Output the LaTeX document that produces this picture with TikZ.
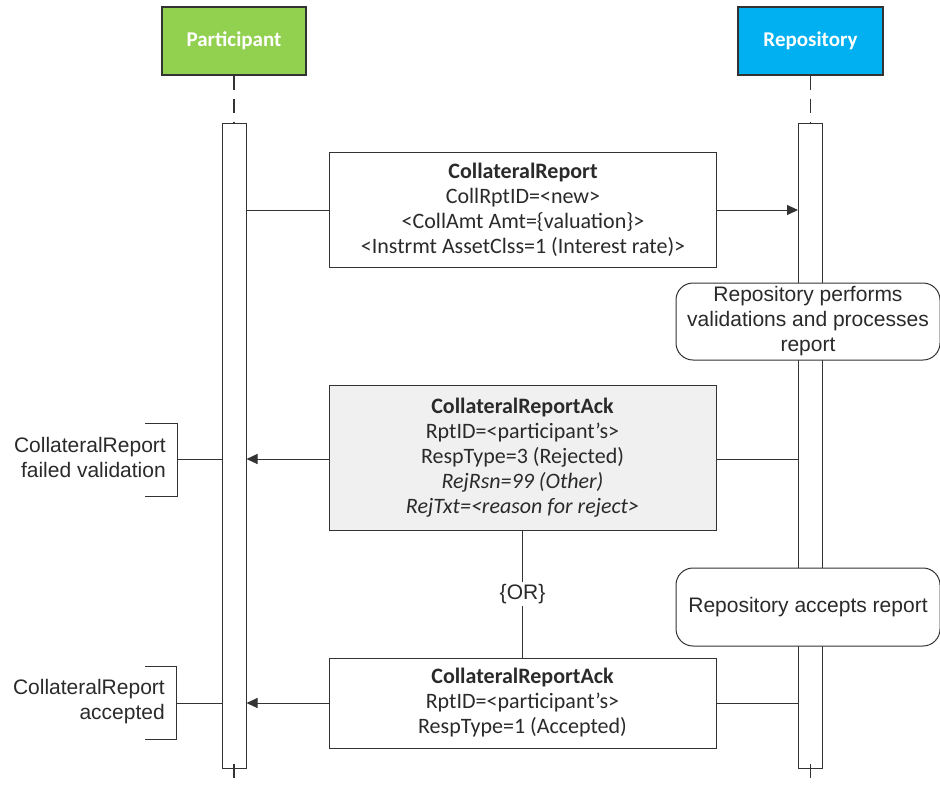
\documentclass[tikz,border=0pt]{standalone}
\usepackage{fontspec}
\setmainfont{Carlito}
\newfontfamily\notefont{Liberation Sans}
\usetikzlibrary{arrows.meta}
\definecolor{partgreen}{HTML}{92D050}
\definecolor{repoblue}{HTML}{00B0F0}
\definecolor{linegray}{HTML}{333333}
\definecolor{txtgray}{HTML}{2A2A2A}
\definecolor{ackfill}{HTML}{F0F0F0}
\begin{document}
\begin{tikzpicture}[x=1pt,y=-1pt,
  actor/.style={draw=linegray, line width=1.3pt, text=white,
    font=\bfseries\fontsize{21}{24}\selectfont, minimum width=144pt,
    minimum height=68pt, inner sep=0pt},
  lifebar/.style={draw=linegray, line width=1pt, fill=white,
    minimum width=24pt, minimum height=645pt, inner sep=0pt},
  lifeline/.style={draw=linegray, line width=1.2pt, dash pattern=on 14pt off 9pt},
  msgbox/.style={draw=linegray, line width=1pt, fill=white, align=center,
    text=txtgray, font=\fontsize{22}{25}\selectfont, minimum width=387pt,
    inner sep=0pt},
  notebox/.style={draw=linegray, line width=1pt, fill=white, rounded corners=17pt,
    align=center, text=txtgray, font=\notefont\fontsize{21}{25}\selectfont,
    minimum width=264pt, inner sep=0pt},
  conn/.style={draw=linegray, line width=1pt},
  msgarrow/.style={conn, -{Triangle[length=11pt,width=10pt]}},
  sidetext/.style={align=right, anchor=east, text=txtgray,
    font=\notefont\fontsize{21}{25}\selectfont, inner sep=0pt}
]
\useasboundingbox (0,0) rectangle (940,785);

% actors
\node[actor, fill=partgreen] (part) at (234,41) {Participant};
\node[actor, fill=repoblue, minimum width=145pt] (repo) at (810.5,41) {Repository};

% lifelines and activation bars
\coordinate (partend) at (234,785);
\coordinate (repoend) at (810.5,785);
\node[lifebar] (pbar) at (234,445.5) {};
\node[lifebar] (rbar) at (810.5,445.5) {};
\draw[lifeline] (part.south) -- (pbar.north);
\draw[lifeline] (repo.south) -- (rbar.north);
\draw[lifeline] ([yshift=5pt]pbar.south) -- (partend);
\draw[lifeline] ([yshift=5pt]rbar.south) -- (repoend);

% CollateralReport request
\node[msgbox, minimum height=115pt] (req) at (523,210)
  {\textbf{CollateralReport}\\ CollRptID=<new>\\ <CollAmt Amt=\{valuation\}>\\
   <Instrmt AssetClss=1 (Interest rate)>};
\draw[conn] (pbar.east |- req.west) -- (req.west);
\draw[msgarrow] (req.east) -- (rbar.west |- req.east);

% processing note
\node[notebox, minimum height=77pt] (proc) at (808,321.5)
  {Repository performs\\ validations and processes\\ report};

% rejected acknowledgement
\node[msgbox, fill=ackfill, minimum height=145pt] (rej) at (522.5,457.5)
  {\textbf{CollateralReportAck}\\ RptID=<participant’s>\\ RespType=3 (Rejected)\\
   \textit{RejRsn=99 (Other)}\\ \textit{RejTxt=<reason for reject>}};
\coordinate (rejy) at (0,459);
\draw[conn] (rbar.west |- rejy) -- (rej.east |- rejy);
\draw[msgarrow] (rej.west |- rejy) -- (pbar.east |- rejy);

% accepted note
\node[notebox, minimum height=78pt] (acc) at (808,607) {Repository accepts report};

% accepted acknowledgement
\node[msgbox, minimum height=90pt] (ok) at (522.5,703)
  {\textbf{CollateralReportAck}\\ RptID=<participant’s>\\ RespType=1 (Accepted)};
\draw[conn] (rbar.west |- ok.east) -- (ok.east);
\draw[msgarrow] (ok.west) -- (pbar.east |- ok.west);

% alternative link
\draw[conn] (rej.south) -- (ok.north)
  node[midway, fill=white, text=txtgray, font=\notefont\fontsize{21}{24}\selectfont,
       inner sep=2pt] {\{OR\}};

% outcome brackets
\coordinate (b1t) at (145,423);
\coordinate (b1tc) at (177,423);
\coordinate (b1bc) at (177,496);
\coordinate (b1b) at (145,496);
\coordinate (b1m) at (177,459);
\draw[conn] (b1t) -- (b1tc) -- (b1bc) -- (b1b);
\draw[conn] (b1m) -- (pbar.west |- b1m);
\node[sidetext] (fail) at (166,457) {CollateralReport\\ failed validation};

\coordinate (b2t) at (145,666);
\coordinate (b2tc) at (176,666);
\coordinate (b2bc) at (176,739);
\coordinate (b2b) at (145,739);
\coordinate (b2m) at (176,703);
\draw[conn] (b2t) -- (b2tc) -- (b2bc) -- (b2b);
\draw[conn] (b2m) -- (pbar.west |- b2m);
\node[sidetext] (okay) at (165,702) {CollateralReport\\ accepted};
\end{tikzpicture}
\end{document}
